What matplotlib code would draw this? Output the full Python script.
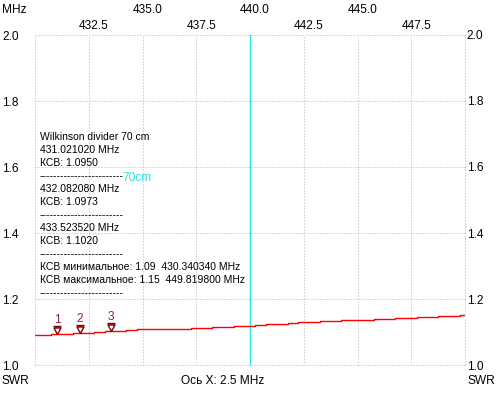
import matplotlib
matplotlib.use("Agg")
import matplotlib.pyplot as plt
from matplotlib.path import Path
from matplotlib.transforms import ScaledTranslation

plt.rcParams['font.family'] = ['Liberation Sans', 'DejaVu Sans']

# sweep (MHz / SWR)
freq_mhz = [430.0, 430.5, 431.0, 431.5, 432.0, 432.5, 433.0, 433.5, 434.0, 434.5,
            435.0, 435.5, 436.0, 436.5, 437.0, 437.5, 438.0, 438.5, 439.0, 439.5,
            440.0, 440.5, 441.0, 441.5, 442.0, 442.5, 443.0, 443.5, 444.0, 444.5,
            445.0, 445.5, 446.0, 446.5, 447.0, 447.5, 448.0, 448.5, 449.0, 449.5,
            450.0]
swr = [1.091, 1.092, 1.094, 1.095, 1.097, 1.098, 1.100, 1.102, 1.103, 1.106,
       1.108, 1.108, 1.109, 1.109, 1.110, 1.111, 1.113, 1.115, 1.116, 1.118,
       1.118, 1.121, 1.123, 1.125, 1.127, 1.129, 1.130, 1.132, 1.133, 1.135,
       1.136, 1.137, 1.139, 1.140, 1.141, 1.143, 1.144, 1.146, 1.147, 1.150,
       1.151]

marker_freq = [431.021020, 432.082080, 433.523520]
marker_swr = [1.0950, 1.0973, 1.1020]
marker_names = ['1', '2', '3']

major_x = [430.0, 435.0, 440.0, 445.0, 450.0]
major_x_labels = ['', '435.0', '440.0', '445.0', '']
minor_x = [432.5, 437.5, 442.5, 447.5]
minor_x_labels = ['432.5', '437.5', '442.5', '447.5']
y_ticks = [1.0, 1.2, 1.4, 1.6, 1.8, 2.0]
y_labels = ['1.0', '1.2', '1.4', '1.6', '1.8', '2.0']
center_freq = 440.0

info_lines = [
    'Wilkinson divider 70 cm',
    '431.021020 MHz',
    'КСВ: 1.0950',
    '------------------------',
    '432.082080 MHz',
    'КСВ: 1.0973',
    '------------------------',
    '433.523520 MHz',
    'КСВ: 1.1020',
    '------------------------',
    'КСВ минимальное: 1.09  430.340340 MHz',
    'КСВ максимальное: 1.15  449.819800 MHz',
    '------------------------',
]

W, H = 499, 400
fig = plt.figure(figsize=(W / 100, H / 100), dpi=100)
ax = fig.add_axes([35 / W, 35 / H, 430 / W, 330 / H])
for s in ax.spines.values():
    s.set_visible(False)

ax.set_xlim(430, 450)
ax.set_ylim(1.0, 2.0)

grid_kw = dict(color='#b4b4b4', linestyle=(0, (1, 2)), linewidth=0.72)
ax.set_xticks(major_x)
ax.set_xticklabels(major_x_labels)
ax.set_xticks(minor_x, minor=True)
ax.set_xticklabels(minor_x_labels, minor=True)
ax.set_yticks(y_ticks)
ax.set_yticklabels(y_labels)
ax.grid(True, which='both', **grid_kw)

ax.tick_params(axis='x', which='both', bottom=False, labelbottom=False,
               top=True, labeltop=True, length=0, labelsize=8.6)
ax.tick_params(axis='x', which='major', pad=13.5)
ax.tick_params(axis='x', which='minor', pad=2.5)
ax.tick_params(axis='y', length=0, pad=11.5, labelsize=8.6)

for lbl in ax.get_xticklabels(which='both'):
    lbl.set_transform(lbl.get_transform() + ScaledTranslation(5 / 100, 0, fig.dpi_scale_trans))

for ln in ax.get_xgridlines() + ax.get_ygridlines():
    ln.set_clip_on(False)

ax2 = ax.twinx()
for s in ax2.spines.values():
    s.set_visible(False)
ax2.set_ylim(1.0, 2.0)
ax2.set_yticks(y_ticks)
ax2.set_yticklabels(y_labels)
ax2.tick_params(axis='y', length=0, pad=1.2, labelsize=8.6)

ax.axvline(center_freq, color='#22e8e8', linewidth=1.0, zorder=3)

ax.plot(freq_mhz, swr, color='#ff0000', linewidth=1.0, drawstyle='steps-mid', zorder=4)

# marker: downward triangle with a bar on top, tip on the trace
tri = Path([(0, 0), (-3.5, 6.5), (3.5, 6.5), (0, 0), (-4, 8), (4, 8)],
           [Path.MOVETO, Path.LINETO, Path.LINETO, Path.CLOSEPOLY, Path.MOVETO, Path.LINETO])
ax.plot(marker_freq, marker_swr, linestyle='none', marker=tri, markersize=11.5,
        markerfacecolor='none', markeredgecolor='#800000', markeredgewidth=1.0, zorder=5)
for f, v, n in zip(marker_freq, marker_swr, marker_names):
    ax.annotate(n, (f, v), xytext=(0, 8), textcoords='offset pixels',
                ha='center', va='bottom', fontsize=8.6, color='#802050', zorder=6)

def fy(py):
    return 1 - py / H

for i, t in enumerate(info_lines):
    fig.text(40 / W, fy(140 + 13 * i), t, fontsize=7.5, va='baseline', ha='left')
fig.text(122 / W, fy(181), '70cm', fontsize=8.6, color='#33dede', va='baseline', ha='left')

fig.text(2 / W, fy(10), 'MHz', fontsize=8.6, va='center', ha='left')
fig.text(2 / W, fy(381), 'SWR', fontsize=8.6, va='center', ha='left')
fig.text(468 / W, fy(381), 'SWR', fontsize=8.6, va='center', ha='left')
fig.text(223 / W, fy(381), 'Ось X: 2.5 MHz', fontsize=8.6, va='center', ha='center')

fig.savefig('out.png', dpi=100)
